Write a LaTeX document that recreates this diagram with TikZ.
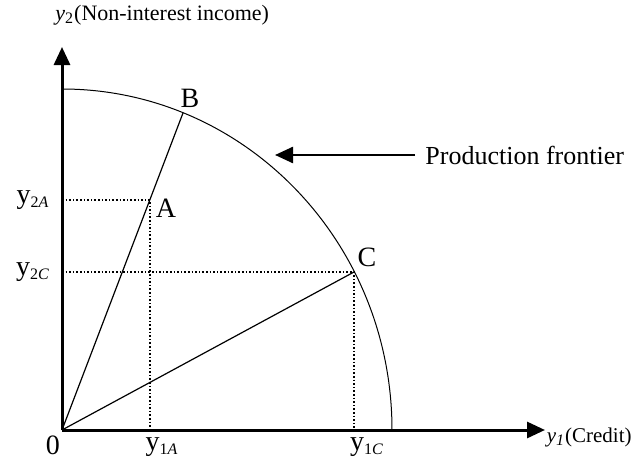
\documentclass[tikz,border=0pt]{standalone}
\usepackage{fontspec}
\setmainfont{Liberation Serif}
\usetikzlibrary{arrows.meta}
\newcommand{\lowidx}[1]{\textsubscript{\fontsize{8}{9}\selectfont #1}}

\begin{document}
\begin{tikzpicture}[x=0.5pt,y=0.5pt, every node/.style={font=\fontsize{14}{16}\selectfont, inner sep=0pt},
        axis/.style={line width=1.5pt, -{Triangle[length=9pt,width=8pt]}},
        ray/.style={line width=0.6pt},
        guide/.style={line width=0.8pt, densely dotted},
        ticklbl/.style={font=\fontsize{14}{16}\selectfont}]
        \useasboundingbox (0,0) rectangle (633,462);
        
        \coordinate (O) at (62,32);
        \coordinate (A) at (150,262);
        \coordinate (B) at (183,349);
        \coordinate (C) at (354,190);
        
        % frontier
        \draw[line width=0.5pt] (62,373) arc[start angle=90, end angle=0, x radius=330, y radius=341];
        
        % guides to the axes
        \draw[guide] (O |- A) -- (A) -- (A |- O);
        \draw[guide] (O |- C) -- (C) -- (C |- O);
        
        % rays from 0
        \draw[ray] (O) -- (B);
        \draw[ray] (O) -- (C);
        
        % axes
        \draw[axis] (O) -- (62,415) coordinate (ytop);
        \draw[axis] (O) -- (545,32) coordinate (xend);
        \node[anchor=west, font=\fontsize{11}{13}\selectfont] (ylbl) at (55,447) {\textit{y}\lowidx{2}(Non-interest income)};
        \node[anchor=east, font=\fontsize{10.5}{13}\selectfont] (xlbl) at (632,25) {\textit{y}\lowidx{\textit{1}}(Credit)};
        
        \node (zero) at (53,17) {0};
        \node (lA) at (166,254) {A};
        \node (lB) at (190,364) {B};
        \node (lC) at (367,205) {C};
        
        \node[ticklbl] (y2A) at (33,262) {y\lowidx{2\textit{A}}};
        \node[ticklbl] (y2C) at (33,190) {y\lowidx{2\textit{C}}};
        \node[ticklbl] (y1A) at (162,15) {y\lowidx{1\textit{A}}};
        \node[ticklbl] (y1C) at (367,15) {y\lowidx{1\textit{C}}};
        
        % label of the frontier
        \node[anchor=west, font=\fontsize{13}{15}\selectfont] (front) at (425,307) {Production frontier};
        \coordinate (fhead) at (275,307);
        \draw[line width=1.2pt, -{Triangle[length=9pt,width=8pt]}] (front.west) ++(-10,0) -- (fhead);
    \end{tikzpicture}
\end{document}
